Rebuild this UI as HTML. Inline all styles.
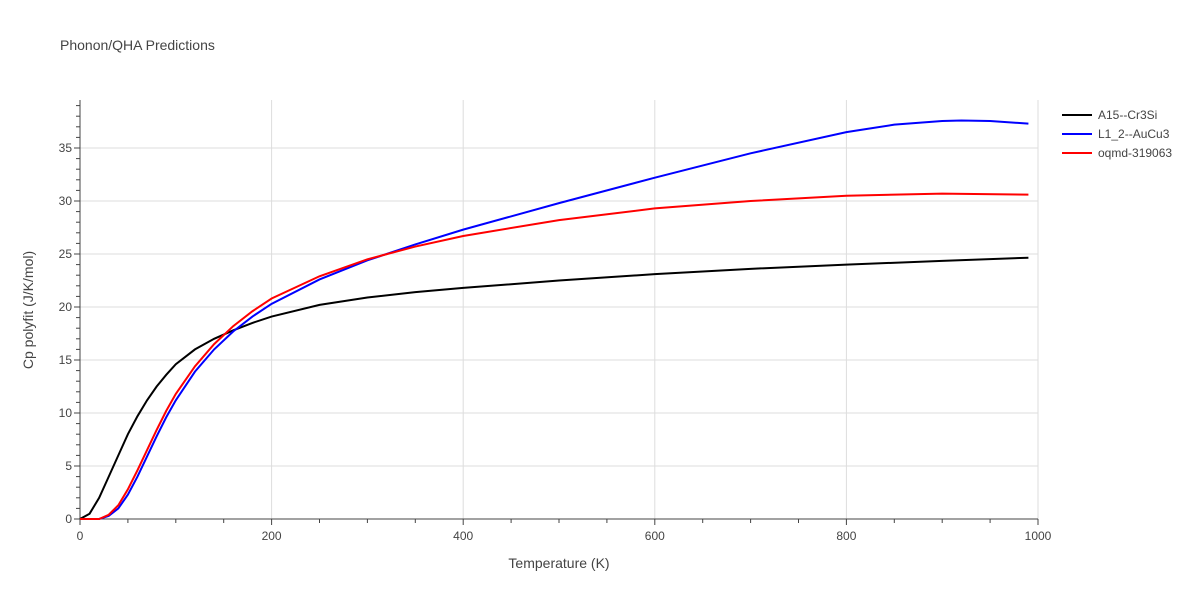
<!DOCTYPE html>
<html><head><meta charset="utf-8"><style>
body{margin:0;background:#fff;font-family:"Liberation Sans",sans-serif}
text{font-family:"Liberation Sans",sans-serif}
</style></head><body>
<svg id="chart" width="1200" height="600">
<text x="60" y="50" font-size="14" fill="#444">Phonon/QHA Predictions</text>
<g id="grid"></g><g id="axes"></g><g id="series"></g>
<text x="559" y="568" font-size="14" fill="#444" text-anchor="middle">Temperature (K)</text>
<text transform="translate(33,310) rotate(-90)" font-size="14" fill="#444" text-anchor="middle">Cp polyfit (J/K/mol)</text>
<g id="legend"></g>
</svg>
<script>
const xTicks=[0,200,400,600,800,1000];
const yTicks=[0,5,10,15,20,25,30,35];
const seriesNames=["A15--Cr3Si","L1_2--AuCu3","oqmd-319063"];
const seriesColors=["#000","#0000ff","#ff0000"];
const tA=[0,10,20,30,40,50,60,70,80,90,100,120,140,160,180,200,250,300,350,400,500,600,700,800,900,990];
const vA=[0,0.5,2,4,6,8,9.7,11.2,12.5,13.6,14.6,16,17,17.8,18.5,19.1,20.2,20.9,21.4,21.8,22.5,23.1,23.6,24,24.35,24.65];
const tB=[0,20,30,40,50,60,70,80,90,100,120,140,160,180,200,250,300,350,400,500,600,700,800,850,900,920,950,990];
const vB=[0,0,0.3,1,2.3,4,5.9,7.8,9.6,11.2,13.9,16,17.7,19.1,20.3,22.6,24.4,25.9,27.3,29.8,32.2,34.5,36.5,37.2,37.55,37.6,37.55,37.3];
const tC=[0,20,30,40,50,60,70,80,90,100,120,140,160,180,200,250,300,350,400,500,600,700,800,900,990];
const vC=[0,0,0.4,1.3,2.8,4.6,6.5,8.4,10.2,11.8,14.4,16.5,18.2,19.6,20.8,22.9,24.5,25.7,26.7,28.2,29.3,30.0,30.5,30.7,30.6];
const X=t=>80+t*0.958, Y=v=>519-v*10.6;
const NS="http://www.w3.org/2000/svg";
function mk(tag,attrs,parent){const e=document.createElementNS(NS,tag);for(const k in attrs)e.setAttribute(k,attrs[k]);document.getElementById(parent).appendChild(e);return e;}
xTicks.forEach(t=>{
 if(t>0){const g=mk("line",{x1:X(t),x2:X(t),y1:100,y2:519,stroke:"#ddd"},"grid");
 
 }
 const l=mk("text",{x:X(t),y:540,"font-size":12,fill:"#444","text-anchor":"middle"},"axes");l.textContent=t;
 
 
});
for(let t=0;t<=1000;t+=50){const m=mk("line",{x1:X(t),x2:X(t),y1:519,y2:t%200==0?525:523,stroke:"#444"},"axes");
 
 }
yTicks.forEach(v=>{
 if(v>0){const g=mk("line",{x1:80,x2:1038,y1:Y(v),y2:Y(v),stroke:"#ddd"},"grid");
 
 }
 const l=mk("text",{x:72,y:Y(v)+4,"font-size":12,fill:"#444","text-anchor":"end"},"axes");l.textContent=v;
 
 
});
for(let v=0;v<=39;v++){const m=mk("line",{x1:v%5==0?74:76,x2:80,y1:Y(v),y2:Y(v),stroke:"#444"},"axes");
 
 }
const ax=mk("line",{x1:80,x2:80,y1:100,y2:519,stroke:"#444"},"axes");


const bx=mk("line",{x1:80,x2:1038,y1:519,y2:519,stroke:"#444"},"axes");


[[tA,vA],[tB,vB],[tC,vC]].forEach((s,i)=>{
 const p=mk("polyline",{points:s[0].map((t,j)=>X(t)+","+Y(s[1][j])).join(" "),fill:"none",stroke:seriesColors[i],"stroke-width":2},"series");
 
 
 const y=115+i*19;
 const ll=mk("line",{x1:1062,x2:1092,y1:y,y2:y,stroke:seriesColors[i],"stroke-width":2},"legend");
 
 
 const lt=mk("text",{x:1098,y:y+4,"font-size":12,fill:"#444"},"legend");lt.textContent=seriesNames[i];
 
 
});
</script>
</body></html>
